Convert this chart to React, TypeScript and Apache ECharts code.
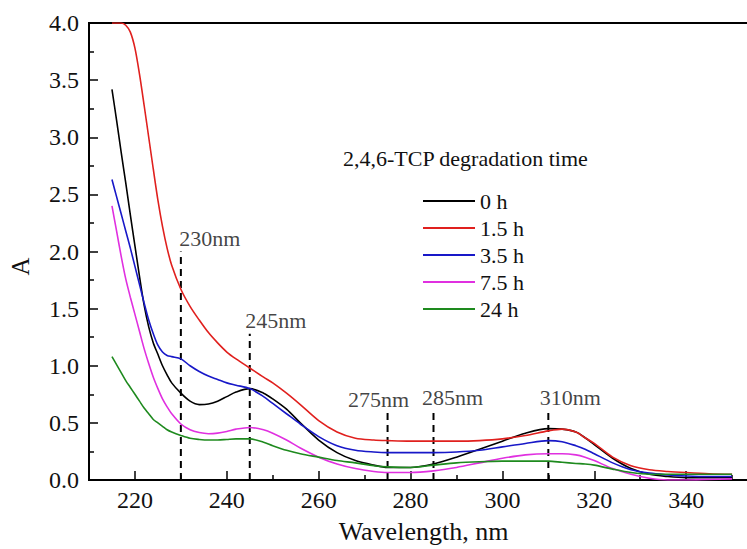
import React, { useEffect, useRef } from "react";
import * as echarts from "echarts";

const wavelengths = [215, 216, 217, 218, 219, 220, 221, 222, 223, 224, 225, 226, 227, 228, 230, 232, 234, 236, 238, 240, 242, 245, 248, 250, 253, 256, 260, 264, 268, 272, 275, 280, 285, 290, 295, 300, 305, 310, 313, 316, 318, 320, 324, 328, 332, 336, 340, 345, 350];

const abs0h = [3.42, 3.15, 2.87, 2.6, 2.32, 2.05, 1.78, 1.53, 1.34, 1.2, 1.1, 1.0, 0.92, 0.85, 0.76, 0.69, 0.66, 0.665, 0.69, 0.73, 0.77, 0.8, 0.76, 0.71, 0.62, 0.5, 0.35, 0.24, 0.17, 0.13, 0.11, 0.11, 0.14, 0.2, 0.27, 0.34, 0.41, 0.45, 0.445, 0.42, 0.37, 0.31, 0.19, 0.1, 0.05, 0.03, 0.02, 0.02, 0.02];
const abs15h = [4.0, 4.0, 4.0, 3.98, 3.92, 3.78, 3.55, 3.28, 3.0, 2.72, 2.45, 2.22, 2.03, 1.88, 1.67, 1.52, 1.4, 1.29, 1.2, 1.12, 1.06, 0.98, 0.9, 0.85, 0.76, 0.66, 0.52, 0.42, 0.365, 0.35, 0.345, 0.34, 0.34, 0.34, 0.345, 0.36, 0.39, 0.43, 0.445, 0.42, 0.37, 0.32, 0.2, 0.125, 0.09, 0.075, 0.065, 0.055, 0.05];
const abs35h = [2.63, 2.48, 2.33, 2.18, 2.03, 1.87, 1.71, 1.55, 1.4, 1.28, 1.18, 1.12, 1.09, 1.08, 1.06, 1.0, 0.95, 0.91, 0.88, 0.85, 0.83, 0.8, 0.73, 0.67, 0.58, 0.49, 0.38, 0.3, 0.26, 0.245, 0.24, 0.24, 0.24, 0.245, 0.26, 0.29, 0.32, 0.345, 0.335, 0.3, 0.27, 0.23, 0.15, 0.09, 0.06, 0.045, 0.035, 0.03, 0.03];
const abs75h = [2.4, 2.18, 1.96, 1.76, 1.6, 1.45, 1.3, 1.15, 1.02, 0.9, 0.8, 0.71, 0.64, 0.58, 0.49, 0.44, 0.415, 0.405, 0.41, 0.425, 0.445, 0.46, 0.44, 0.41, 0.35, 0.28, 0.2, 0.14, 0.1, 0.075, 0.065, 0.065, 0.08, 0.11, 0.15, 0.19, 0.22, 0.23, 0.23, 0.22, 0.2, 0.17, 0.1, 0.05, 0.015, 0.0, 0.0, 0.005, 0.01];
const abs24h = [1.08, 1.01, 0.94, 0.87, 0.81, 0.75, 0.69, 0.63, 0.58, 0.53, 0.5, 0.47, 0.44, 0.42, 0.39, 0.365, 0.355, 0.35, 0.35, 0.355, 0.36, 0.36, 0.33, 0.3, 0.26, 0.23, 0.2, 0.17, 0.15, 0.125, 0.115, 0.11, 0.13, 0.15, 0.16, 0.165, 0.165, 0.165, 0.155, 0.145, 0.14, 0.13, 0.095, 0.065, 0.05, 0.05, 0.05, 0.05, 0.05];

const seriesNames = ["0 h", "1.5 h", "3.5 h", "7.5 h", "24 h"];
const seriesValues = [abs0h, abs15h, abs35h, abs75h, abs24h];
const seriesColors = ["#000000", "#e0201e", "#1818c8", "#e030e0", "#1e8a1e"];

const markerWavelengths = [230, 245, 275, 285, 310];
const markerTops = [2.0, 1.28, 0.59, 0.61, 0.61];
const markerLabelDx = [29, 26, -9, 19, 22];

const xMajorTicks = [220, 240, 260, 280, 300, 320, 340, 360];
const xLabelValues = [220, 240, 260, 280, 300, 320, 340];
const xMinorTicks = [230, 250, 270, 290, 310, 330, 350];

const FONT = "Liberation Serif";

export default function App() {
  const ref = useRef<HTMLDivElement>(null);
  useEffect(() => {
    const chart = echarts.init(ref.current!, null, { renderer: "svg" });
    const curveSeries = seriesNames.map((name, i) => ({
      name,
      type: "line",
      data: wavelengths.map((w, j) => [w, seriesValues[i][j]]),
      smooth: 0.3,
      symbol: "none",
      lineStyle: { color: seriesColors[i], width: 1.6 },
      itemStyle: { color: seriesColors[i] },
      z: 3,
    }));
    const markerSeries = markerWavelengths.map((w, i) => ({
      type: "line",
      data: [
        [w, 0],
        [w, markerTops[i]],
      ],
      symbol: "none",
      lineStyle: { color: "#000", width: 2, type: [7, 5] },
      z: 2,
      silent: true,
    }));
    const labelSeries = {
      type: "scatter",
      symbolSize: 0,
      silent: true,
      data: markerWavelengths.map((w, i) => ({
        value: [w, markerTops[i]],
        label: {
          show: true,
          position: "top",
          distance: 2,
          offset: [markerLabelDx[i], 0],
          formatter: `${w}nm`,
          fontFamily: FONT,
          fontSize: 22,
          color: "#111",
        },
      })),
    };
    const option = {
      animation: false,
      backgroundColor: "#fff",
      textStyle: { fontFamily: FONT },
      title: {
        text: "2,4,6-TCP degradation time",
        left: 343,
        top: 147,
        padding: 0,
        textStyle: { fontFamily: FONT, fontSize: 22, fontWeight: "normal", color: "#111" },
      },
      legend: {
        data: seriesNames,
        orient: "vertical",
        left: 423,
        top: 190,
        padding: 0,
        icon: "rect",
        itemWidth: 52,
        itemHeight: 2,
        itemGap: 5,
        textStyle: { fontFamily: FONT, fontSize: 22, color: "#111", lineHeight: 22 },
      },
      grid: {
        left: 89,
        top: 23,
        bottom: 63,
        right: 12,
        show: true,
        borderColor: "#000",
        borderWidth: 2,
        containLabel: false,
      },
      xAxis: [
        {
          type: "value",
          min: 210,
          max: 360,
          position: "bottom",
          name: "Wavelength, nm",
          nameLocation: "middle",
          nameGap: 38,
          nameTextStyle: { fontFamily: FONT, fontSize: 26, color: "#111", padding: [0, 20, 0, 0] },
          axisLine: { show: true, lineStyle: { color: "#000", width: 2 } },
          axisTick: { show: true, inside: true, length: 9, customValues: xMajorTicks, lineStyle: { color: "#000", width: 1.5 } },
          axisLabel: { customValues: xLabelValues, margin: 8, fontFamily: FONT, fontSize: 24, color: "#111" },
          splitLine: { show: false },
        },
        {
          type: "value",
          min: 210,
          max: 360,
          position: "bottom",
          axisLine: { show: false },
          axisTick: { show: true, inside: true, length: 5, customValues: xMinorTicks, lineStyle: { color: "#000", width: 1.5 } },
          axisLabel: { show: false },
          splitLine: { show: false },
        },
      ],
      yAxis: {
        type: "value",
        min: 0,
        max: 4,
        interval: 0.5,
        name: "A",
        nameLocation: "middle",
        nameGap: 56,
        nameTextStyle: { fontFamily: FONT, fontSize: 25, color: "#111", padding: [0, 30, 0, 0] },
        axisLine: { show: true, lineStyle: { color: "#000", width: 2 } },
        axisTick: { show: true, inside: true, length: 9, lineStyle: { color: "#000", width: 1.5 } },
        minorTick: { show: true, splitNumber: 2, length: 5, lineStyle: { color: "#000", width: 1.5 } },
        axisLabel: { margin: 10, fontFamily: FONT, fontSize: 24, color: "#111", formatter: (v: number) => v.toFixed(1) },
        splitLine: { show: false },
        minorSplitLine: { show: false },
      },
      series: [...markerSeries, ...curveSeries, labelSeries],
    };
    chart.setOption(option as any);
    return () => chart.dispose();
  }, []);
  return (
    <div
      ref={ref}
      style={{ position: "fixed", left: 0, top: 0, width: 790, height: 549, background: "#fff" }}
    />
  );
}
